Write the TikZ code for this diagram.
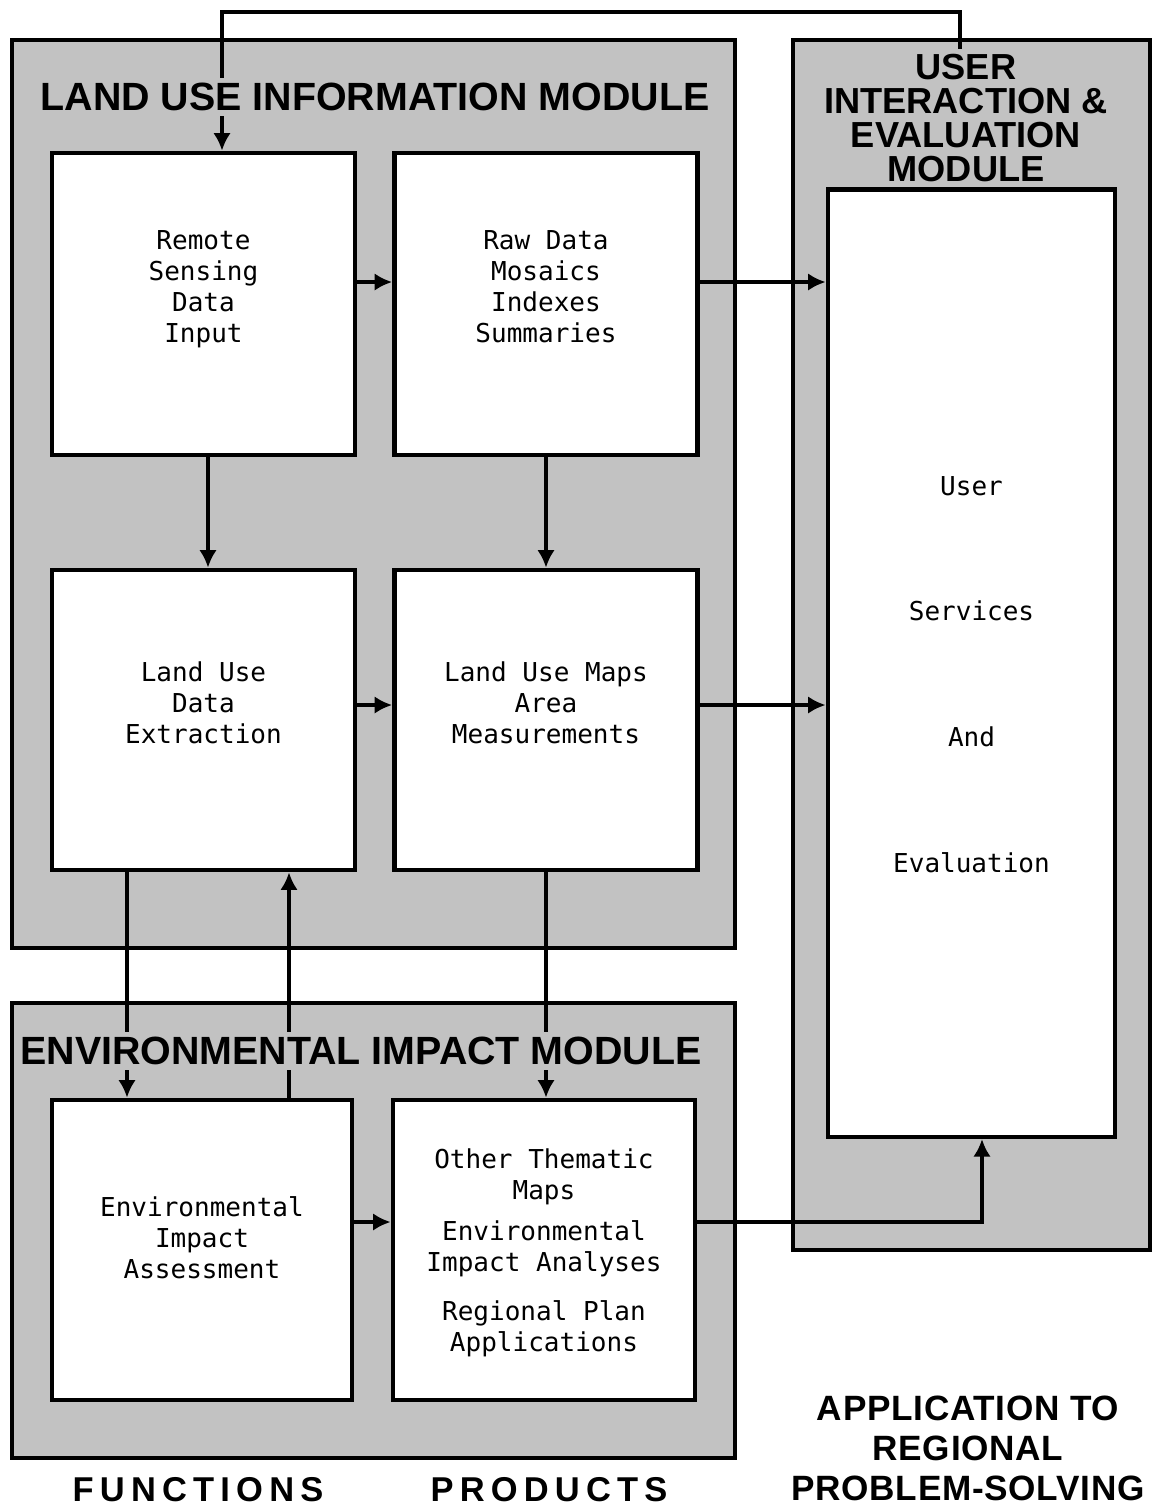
\documentclass[tikz,border=0pt]{standalone}
\usepackage{fontspec}
\setmainfont{Liberation Sans}
\newfontfamily\boxfont{DejaVu Sans Mono}
\newfontfamily\headfont{Liberation Sans}
\newfontfamily\footfont[LetterSpace=18]{Liberation Sans}
\newfontfamily\applfont[LetterSpace=2]{Liberation Sans}
\usetikzlibrary{arrows.meta,positioning}

\definecolor{screen}{gray}{0.76}
% extra depth under a last line, to lift box text a little
\newcommand{\textlift}[1]{\rule[-#1]{0pt}{0pt}}

\tikzset{
  panel/.style={draw, line width=1.3pt, fill=screen},
  block/.style={draw, line width=1.3pt, fill=white, align=center, inner sep=0pt,
    minimum width=3.03cm, minimum height=3.02cm,
    font=\boxfont\fontsize{7.4}{8.8}\selectfont},
  heading/.style={fill=screen, inner sep=1.5pt, align=center,
    font=\headfont\bfseries\fontsize{11.2}{11}\selectfont},
  footer/.style={inner sep=0pt, font=\footfont\bfseries\fontsize{9.8}{11}\selectfont},
  appl/.style={inner sep=0pt, align=center, font=\applfont\bfseries\fontsize{10}{11.4}\selectfont},
  link/.style={line width=1.1pt, -{Latex[length=5pt,width=5pt]}},
}

\begin{document}
\begin{tikzpicture}[x=0.01cm, y=-0.01cm]
  \useasboundingbox[fill=white] (0,0) rectangle (1154,1505);

  % modules
  \draw[panel] (12,40) rectangle (735,948);
  \draw[panel] (793,40) rectangle (1150,1250);
  \draw[panel] (12,1003) rectangle (735,1458);

  % functions and products
  \node[block] (rs) at (203.5,304) {Remote\\Sensing\\Data\\Input\textlift{10pt}};
  \node[block] (raw) at (546,304) {Raw Data\\Mosaics\\Indexes\\Summaries\textlift{10pt}};
  \node[block, minimum height=3.0cm] (ext) at (203.5,720) {Land Use\\Data\\Extraction\textlift{10pt}};
  \node[block, minimum height=3.0cm] (maps) at (546,720) {Land Use Maps\\Area\\Measurements\textlift{10pt}};
  \node[block, minimum width=3.0cm, minimum height=3.0cm] (eia) at (202,1250)
    {Environmental\\Impact\\Assessment\textlift{7pt}};
  \node[block, minimum width=3.02cm, minimum height=3.0cm] (oth) at (544,1250)
    {\rule{0pt}{7pt}Other Thematic\\Maps\\[3pt]Environmental\\Impact Analyses\\[5pt]Regional Plan\\Applications};
  \node[block, minimum width=2.87cm, minimum height=9.47cm] (usr) at (971.5,663)
    {\rule{0pt}{12pt}User\\[27pt]Services\\[27pt]And\\[27pt]Evaluation};

  \coordinate (topL) at (222,12);
  \coordinate (topR) at (960,12);
  \coordinate (rowA) at (0,282);
  \coordinate (rowB) at (0,705);
  \coordinate (rowC) at (0,1222);
  \coordinate (colA) at (208,0);
  \coordinate (colB) at (127,0);
  \coordinate (colC) at (289,0);
  \coordinate (colD) at (982,0);

  % flows
  \draw[link] (topR |- usr.north) -- (topR) -- (topL) -- (topL |- rs.north);
  \draw[link] (rs.east |- rowA) -- (raw.west |- rowA);
  \draw[link] (raw.east |- rowA) -- (usr.west |- rowA);
  \draw[link] (colA |- rs.south) -- (colA |- ext.north);
  \draw[link] (raw.south) -- (maps.north);
  \draw[link] (ext.east |- rowB) -- (maps.west |- rowB);
  \draw[link] (maps.east |- rowB) -- (usr.west |- rowB);
  \draw[link] (colB |- ext.south) -- (colB |- eia.north);
  \draw[link] (colC |- eia.north) -- (colC |- ext.south);
  \draw[link] (maps.south) -- (maps.south |- oth.north);
  \draw[link] (eia.east |- rowC) -- (oth.west |- rowC);
  \draw[link] (oth.east |- rowC) -| (colD |- usr.south);

  % module titles
  \node[heading] (luim) at (375,97) {LAND USE INFORMATION MODULE};
  \node[heading, font=\headfont\bfseries\fontsize{10.3}{9.6}\selectfont] (uiem) at (966,118)
    {USER\\INTERACTION \&\\EVALUATION\\MODULE};
  \node[heading] (eim) at (361,1051) {ENVIRONMENTAL IMPACT MODULE};

  % column captions
  \node[footer] (fn) at (198,1490) {FUNCTIONS};
  \node[footer] (pr) at (549,1490) {PRODUCTS};
  \node[appl] (ap) at (968,1448) {APPLICATION TO\\REGIONAL\\PROBLEM-SOLVING};
\end{tikzpicture}
\end{document}
